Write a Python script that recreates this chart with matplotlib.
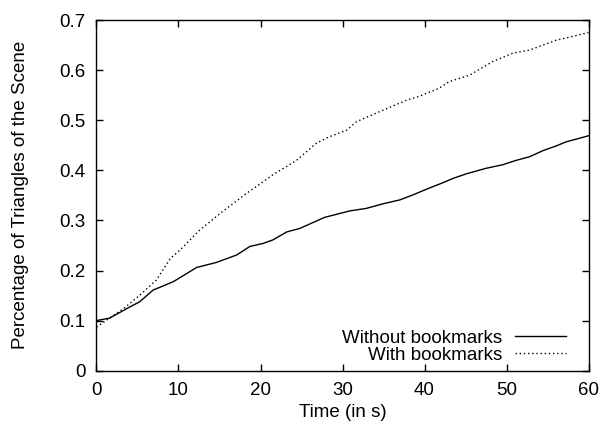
import matplotlib
matplotlib.use("Agg")
import matplotlib.pyplot as plt

# Values
t_without = [0, 1.6, 3.7, 5.3, 6.9, 8.1, 9.4, 11.4, 12.2, 14.6, 17.1, 18.7, 20.3,
             21.5, 23.2, 24.8, 27.8, 30.9, 32.9, 34.9, 37.0, 38.6, 40.2, 42.2,
             43.5, 45.1, 47.5, 49.5, 51.2, 52.8, 54.4, 56.1, 57.3, 58.9, 60]
without_bm = [0.100, 0.105, 0.124, 0.138, 0.161, 0.169, 0.178, 0.198, 0.206,
              0.216, 0.231, 0.248, 0.254, 0.261, 0.277, 0.284, 0.306, 0.319,
              0.324, 0.333, 0.341, 0.351, 0.362, 0.375, 0.384, 0.393, 0.404,
              0.411, 0.420, 0.427, 0.439, 0.449, 0.457, 0.464, 0.469]

t_with = [0, 1.6, 3.3, 5.3, 7.3, 9.0, 10.2, 12.6, 15.4, 18.3, 20.3, 21.5, 24.4,
          26.8, 28.4, 30.5, 31.7, 34.5, 37.8, 39.4, 41.8, 43.0, 45.5, 48.3,
          50.8, 52.8, 56.1, 58.0, 60]
with_bm = [0.087, 0.105, 0.124, 0.151, 0.181, 0.224, 0.241, 0.281, 0.318,
           0.354, 0.377, 0.391, 0.420, 0.454, 0.467, 0.480, 0.497, 0.517,
           0.540, 0.548, 0.564, 0.577, 0.590, 0.617, 0.634, 0.640, 0.660,
           0.667, 0.675]

plt.rcParams['font.family'] = ['Liberation Sans', 'DejaVu Sans']
plt.rcParams['font.size'] = 13.5

fig = plt.figure(figsize=(6.08, 4.26), dpi=100)
ax = fig.add_axes([0.1587, 0.1298, 0.8093, 0.8232])

ax.plot(t_without, without_bm, color='black', linewidth=1.0, label='Without bookmarks')
ax.plot(t_with, with_bm, color='black', linewidth=1.0, linestyle=(0, (1, 2)), label='With bookmarks')

ax.set_xlim(0, 60)
ax.set_ylim(0, 0.7)
ax.set_xticks(range(0, 61, 10))
ax.set_yticks([0, 0.1, 0.2, 0.3, 0.4, 0.5, 0.6, 0.7])
ax.set_yticklabels(['0', '0.1', '0.2', '0.3', '0.4', '0.5', '0.6', '0.7'])
ax.tick_params(direction='in', top=True, right=True, length=5, width=1, pad=8)
for s in ax.spines.values():
    s.set_linewidth(1.0)

ax.set_xlabel('Time (in s)', labelpad=4)
ax.set_ylabel('Percentage of Triangles of the Scene', labelpad=22)

ax.legend(loc='lower right', frameon=False, markerfirst=False, handlelength=2.7,
          labelspacing=0.0, borderaxespad=0, borderpad=0, handletextpad=0.7,
          bbox_to_anchor=(0.954, 0.019))

fig.savefig('out.png', dpi=100)
